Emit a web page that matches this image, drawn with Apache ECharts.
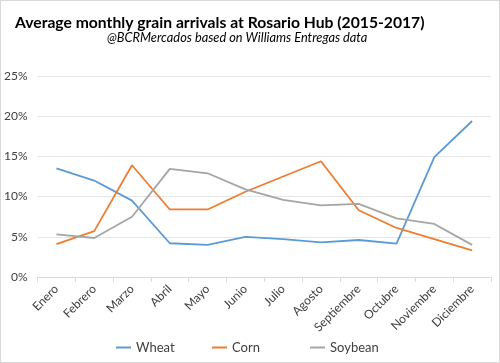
<!DOCTYPE html>
<html><head><meta charset="utf-8">
<script src="https://cdn.jsdelivr.net/npm/echarts@6/dist/echarts.min.js"></script>
<style>html,body{margin:0;padding:0;background:#fff}#c{width:500px;height:363px;box-sizing:border-box;border:1px solid #d9d9d9}</style>
</head><body><div id="c"></div>
<script>
const months = ["Enero","Febrero","Marzo","Abril","Mayo","Junio","Julio","Agosto","Septiembre","Octubre","Noviembre","Diciembre"];
const wheat = [13.5,12.0,9.5,4.2,4.0,5.0,4.7,4.3,4.6,4.15,14.9,19.4];
const corn = [4.1,5.7,13.9,8.4,8.4,10.6,12.5,14.4,8.3,6.1,4.7,3.3];
const soybean = [5.3,4.85,7.5,13.45,12.9,10.9,9.6,8.9,9.1,7.3,6.6,4.0];
const yTicks = [0,5,10,15,20,25];
const seriesNames = ['Wheat','Corn','Soybean'];
const colors = ['#5B9BD5','#ED7D31','#A5A5A5'];

const chart = echarts.init(document.getElementById('c'), null, {renderer:'canvas'});
const font = 'Lato, sans-serif';
const legendLeft = [115, 211, 309];
chart.setOption({
  animation:false,
  title:[
    {text:'Average monthly grain arrivals at Rosario Hub (2015-2017)', left:9, top:9,
     textStyle:{fontFamily:font, fontSize:15.7, fontWeight:'bold', color:'#000'}},
    {text:'@BCRMercados based on Williams Entregas data', left:106, top:30, padding:0,
     textStyle:{fontFamily:font, fontSize:12.8, fontStyle:'italic', fontWeight:'normal', color:'#000'}}
  ],
  legend: seriesNames.map((n,i)=>({data:[n], top:340, left:legendLeft[i], padding:0, itemWidth:15, itemHeight:2, itemGap:4,
    icon:'rect', textStyle:{fontFamily:font, fontSize:13, color:'#404040'}})),
  grid:{left:36, right:8, top:75, bottom:85, containLabel:false},
  xAxis:{type:'category', data:months, boundaryGap:true,
    axisLine:{lineStyle:{color:'#d9d9d9'}},
    axisTick:{show:true, length:5, lineStyle:{color:'#d9d9d9'}},
    axisLabel:{rotate:45, fontFamily:font, fontSize:12, color:'#404040', margin:10, interval:0}},
  yAxis:{type:'value', min:yTicks[0], max:yTicks[yTicks.length-1], interval:5,
    axisLine:{show:false}, axisTick:{show:false},
    splitLine:{lineStyle:{color:'#e6e6e6'}},
    axisLabel:{fontFamily:font, fontSize:12, color:'#404040', margin:10, formatter:v=>v+'%'}},
  series:[wheat,corn,soybean].map((d,i)=>({name:seriesNames[i], type:'line', data:d, symbol:'none',
    lineStyle:{width:1.8, color:colors[i]}, itemStyle:{color:colors[i]}}))
});
</script></body></html>
